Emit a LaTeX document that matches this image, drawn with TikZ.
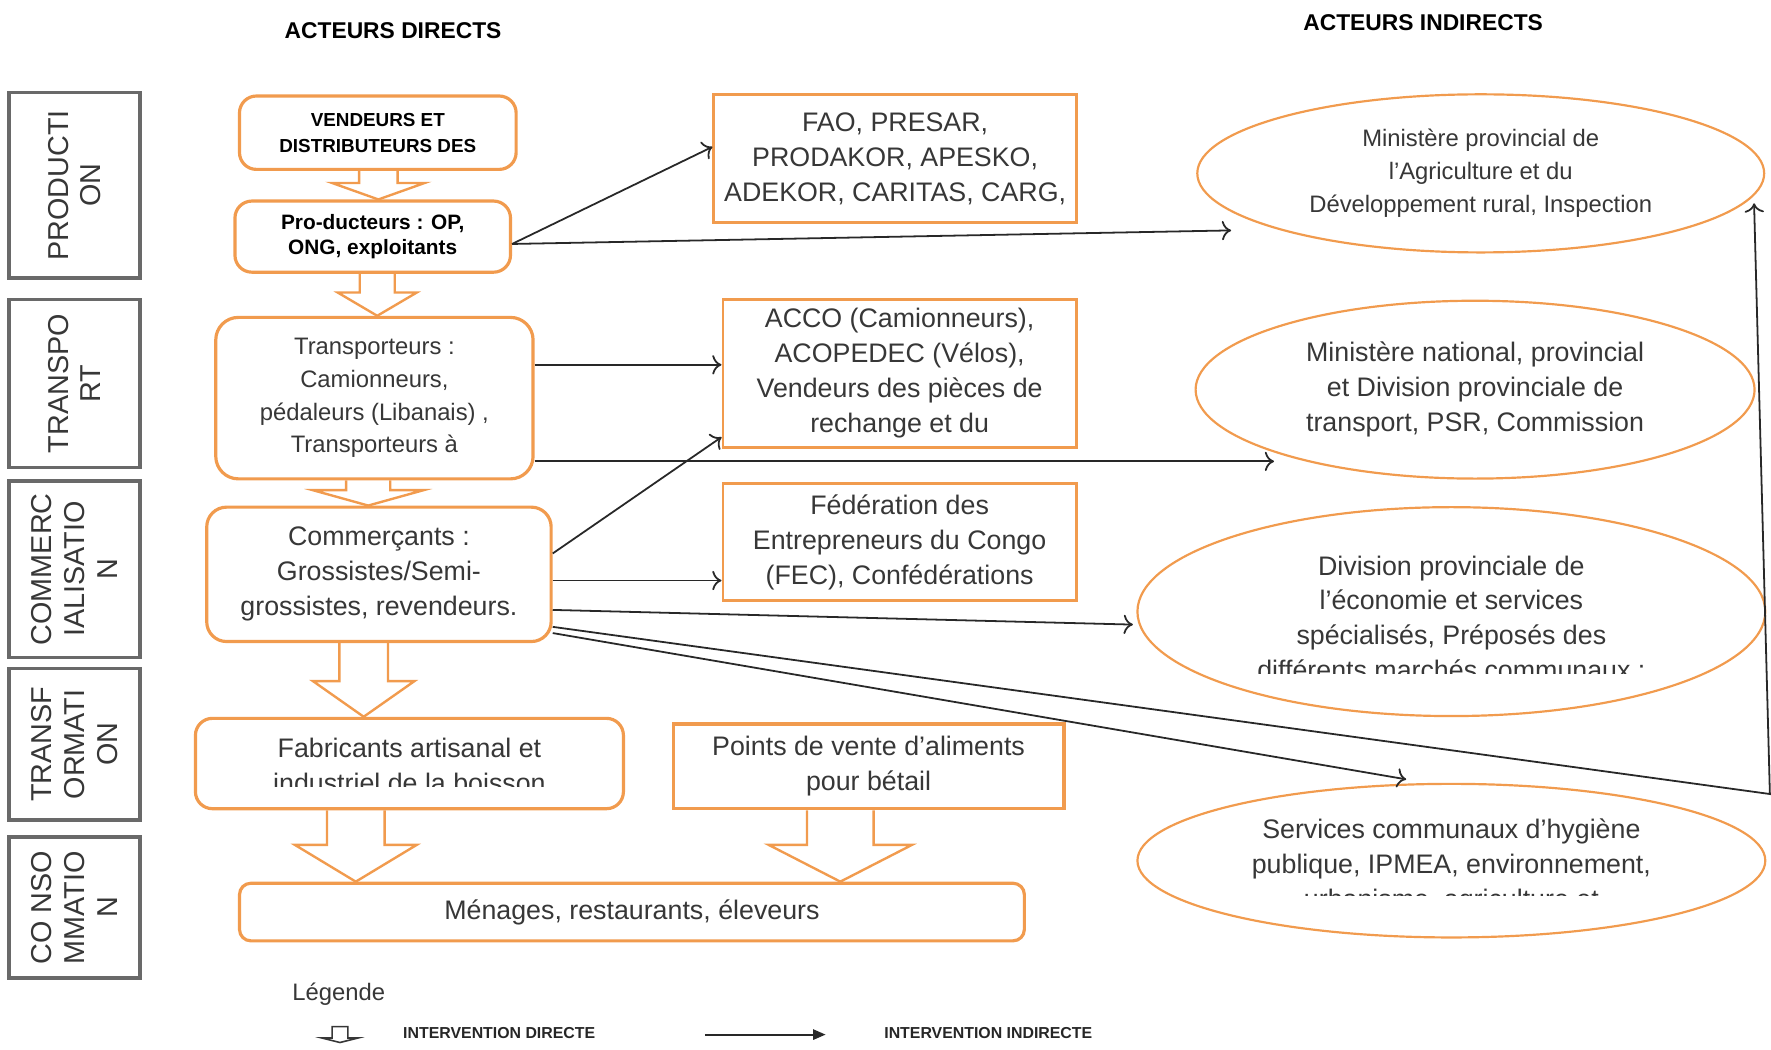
\documentclass[tikz,border=0pt]{standalone}
\usepackage{fontspec}
\setmainfont{Liberation Sans}
\usepackage{tikz}
\usetikzlibrary{arrows.meta, shapes.geometric}

\definecolor{boxorange}{RGB}{241,155,78}
\definecolor{phasegray}{RGB}{105,105,105}
\definecolor{textgray}{RGB}{55,55,55}
\definecolor{linegray}{RGB}{40,40,40}

\tikzset{
  phase/.style={draw=phasegray, line width=1.7pt, rotate=90, minimum height=2.32cm, inner sep=0pt, align=center, text=textgray, font=\fontsize{14.5}{16.5}\selectfont},
  direct/.style={draw=boxorange, line width=1.6pt, rounded corners=0.3cm, fill=white, inner sep=0pt, align=center, text=textgray, font=\fontsize{13.5}{17.6}\selectfont},
  support/.style={draw=boxorange, line width=1.4pt, inner sep=0pt, align=center, text=textgray, font=\fontsize{13.5}{17.6}\selectfont},
  office/.style={ellipse, draw=boxorange, line width=1.1pt, inner sep=0pt, align=center, text=textgray, font=\fontsize{13.5}{17.6}\selectfont},
  boxtext/.style={inner sep=0pt, align=center, text=textgray, font=\fontsize{13.5}{17.6}\selectfont},
  heading/.style={font=\bfseries\fontsize{11.5}{13}\selectfont},
  legendtext/.style={font=\bfseries\fontsize{8}{10}\selectfont, text=black!85},
  fatarrow/.style={draw=boxorange, line width=1.2pt, fill=white, line join=miter},
  indirect/.style={-{To[scale=1.3]}, draw=linegray, line width=0.9pt},
}

\begin{document}
\begin{tikzpicture}[x=0.02cm, y=-0.02cm]
        \useasboundingbox (0,0) rectangle (1568,929);

        \node[heading] at (348, 27)   (HD) {ACTEURS DIRECTS};
        \node[heading] at (1260, 20)  (HI) {ACTEURS INDIRECTS};

        % filieres
        \node[phase, minimum width=3.28cm] at (66, 164)   (Ph1) {PRODUCTI\\ON};
        \node[phase, minimum width=2.98cm] at (66, 339.5) (Ph2) {TRANSPO\\RT};
        \node[phase, minimum width=3.12cm] at (66, 504)   (Ph3) {COMMERC\\IALISATIO\\N};
        \node[phase, minimum width=2.68cm] at (66, 659)   (Ph4) {TRANSF\\ORMATI\\ON};
        \node[phase, minimum width=2.5cm]  at (66, 803.5) (Ph5) {CO NSO\\MMATIO\\N};

        % acteurs directs
        \node[direct, minimum width=4.9cm, minimum height=1.3cm, font=\bfseries\fontsize{9.5}{13}\selectfont, text=black] at (334.5, 117.5)   (VD) {VENDEURS ET\\DISTRIBUTEURS DES};
        \node[direct, minimum width=4.88cm, minimum height=1.26cm, font=\bfseries\fontsize{10.5}{12.5}\selectfont, text=black] at (330, 209.5)   (PR) {Pro-ducteurs : OP,\\ONG, exploitants};
        \node[direct, minimum width=5.62cm, minimum height=2.86cm, rounded corners=0.4cm, font=\fontsize{12}{16.5}\selectfont] at (331.5, 352.5)   (TR) {Transporteurs :\\Camionneurs,\\pédaleurs (Libanais) ,\\Transporteurs à};
        \node[direct, minimum width=6.1cm, minimum height=2.38cm, rounded corners=0.35cm] at (335.5, 508.5)   (CO) {Commerçants :\\Grossistes/Semi-\\grossistes, revendeurs.};
        \node[direct, minimum width=7.58cm, minimum height=1.6cm] at (362.5, 676)   (FA) {};
        \begin{scope}
            \clip (173, 640) rectangle (552, 696);
            \node[boxtext] at (362.5, 678)   (FAtext) {Fabricants artisanal et\\industriel de la boisson};
        \end{scope}
        \node[support, line width=1.6pt, minimum width=6.92cm, minimum height=1.5cm] at (769, 678.5)   (PV) {Points de vente d'aliments\\pour bétail};
        \node[direct, minimum width=13.9cm, minimum height=1.02cm, rounded corners=0.2cm] at (559.5, 807.5)   (ME) {Ménages, restaurants, éleveurs};

        % appuis
        \node[support, minimum width=6.42cm, minimum height=2.26cm] at (792.5, 140.5)   (FAO) {FAO, PRESAR,\\PRODAKOR, APESKO,\\ADEKOR, CARITAS, CARG,};
        \node[support, minimum width=6.26cm, minimum height=2.62cm] at (796.5, 330.5)   (ACCO) {ACCO (Camionneurs),\\ACOPEDEC (Vélos),\\Vendeurs des pièces de\\rechange et du};
        \node[support, minimum width=6.26cm, minimum height=2.08cm] at (796.5, 480)   (FEC) {Fédération des\\Entrepreneurs du Congo\\(FEC), Confédérations};

        % acteurs indirects
        \node[office, minimum width=10.04cm, minimum height=2.8cm, font=\fontsize{12}{16.5}\selectfont] at (1311, 153.5)   (M1) {Ministère provincial de\\l'Agriculture et du\\Développement rural, Inspection};
        \node[office, minimum width=9.9cm, minimum height=3.15cm] at (1306, 345)   (M2) {Ministère national, provincial\\et Division provinciale de\\transport, PSR, Commission};
        \node[office, minimum width=11.12cm, minimum height=3.7cm] at (1285, 541.5)   (M3) {};
        \begin{scope}
            \clip (1007, 449) rectangle (1563, 596);
            \node[boxtext] at (1285, 547)   (M3text) {Division provinciale de\\l'économie et services\\spécialisés, Préposés des\\différents marchés communaux :};
        \end{scope}
        \node[office, minimum width=11.12cm, minimum height=2.72cm] at (1285, 762)   (M4) {};
        \begin{scope}
            \clip (1007, 694) rectangle (1563, 793);
            \node[boxtext] at (1285, 767)   (M4text) {Services communaux d'hygiène\\publique, IPMEA, environnement,\\urbanisme, agriculture et};
        \end{scope}

        % intervention indirecte
        \coordinate (toM1) at (1090, 204);
        \coordinate (toM2) at (1128, 408.5);
        \coordinate (toM3) at (1003, 553);
        \coordinate (toM4) at (1245, 690);
        \coordinate (edge) at (1567, 703);
        \coordinate (upM1) at (1553, 180);
        \draw [indirect] (PR.east |- 0,216) -- (FAO.west |- 0,130);
        \draw [indirect] (PR.east |- 0,216) -- (toM1);
        \draw [indirect] (TR.east |- 0,323) -- (ACCO.west |- 0,323);
        \draw [indirect] (TR.east |- 0,408.5) -- (toM2);
        \draw [indirect] (CO.east |- 0,490) -- (ACCO.west |- 0,387);
        \draw [indirect] (CO.east |- 0,514) -- (FEC.west |- 0,514);
        \draw [indirect] (CO.east |- 0,540) -- (toM3);
        \draw [indirect] (CO.east |- 0,560.5) -- (toM4);
        \draw [indirect] (CO.east |- 0,555) -- (edge) -- (upM1);

        % legende
        \node[font=\fontsize{12}{14}\selectfont, text=textgray] at (300, 880)   (LG) {Légende};
        \node[legendtext] at (442, 915)   (LD) {INTERVENTION DIRECTE};
        \node[legendtext] at (875, 915)   (LI) {INTERVENTION INDIRECTE};
        \coordinate (legA) at (624, 916);
        \coordinate (legB) at (731, 916);
        \draw [-{Triangle[length=0.22cm, width=0.18cm]}, draw=linegray, line width=1pt] (legA) -- (legB);

        \pgfdeclarelayer{bg}
        \pgfsetlayers{bg,main}
        \begin{pgfonlayer}{bg}
            % intervention directe
            \draw [fatarrow] (318,0 |- VD.south) -- (318,162) -- (294,162) -- (335,0 |- PR.north) -- (376,162) -- (352,162) -- (352,0 |- VD.south);
            \draw [fatarrow] (318.5,0 |- PR.south) -- (318.5,259) -- (299,259) -- (334,0 |- TR.north) -- (369,259) -- (349.5,259) -- (349.5,0 |- PR.south);
            \draw [fatarrow] (306.5,0 |- TR.south) -- (306.5,434) -- (277,434) -- (326,0 |- CO.north) -- (375,434) -- (345.5,434) -- (345.5,0 |- TR.south);
            \draw [fatarrow] (300.5,0 |- CO.south) -- (300.5,603) -- (277,603) -- (322,0 |- FA.north) -- (367,603) -- (343.5,603) -- (343.5,0 |- CO.south);
            \draw [fatarrow] (289.5,0 |- FA.south) -- (289.5,748) -- (261,748) -- (315,0 |- ME.north) -- (369,748) -- (340.5,748) -- (340.5,0 |- FA.south);
            \draw [fatarrow] (714.5,0 |- PV.south) -- (714.5,748) -- (680.5,748) -- (744,0 |- ME.north) -- (807.5,748) -- (773.5,748) -- (773.5,0 |- PV.south);
            \draw [draw=textgray, line width=0.8pt] (294,909) -- (294,919) -- (285,919) -- (301,923) -- (317,919) -- (308,919) -- (308,909) -- cycle;
        \end{pgfonlayer}
    \end{tikzpicture}
\end{document}
